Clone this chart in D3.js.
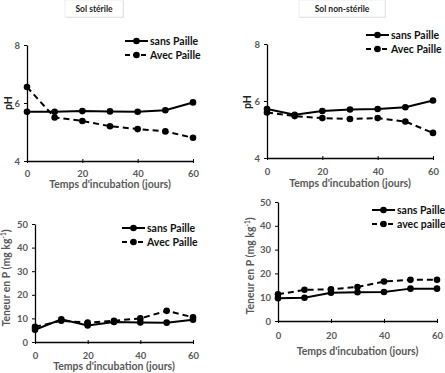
<!DOCTYPE html>
<html>
<head>
<meta charset="utf-8">
<script src="https://cdn.jsdelivr.net/npm/d3@7"></script>
<style>
	body { margin: 0; background: #fff; }
	svg { display: block; }
	text { font-family: Lato, "Open Sans", sans-serif; font-weight: bold; }
</style>
</head>
<body>
<script>
	// data
	var days = [0, 10, 20, 30, 40, 50, 60];

	var phSterileSans = [5.7, 5.7, 5.72, 5.71, 5.7, 5.75, 6.02];
	var phSterileAvec = [6.55, 5.5, 5.38, 5.2, 5.1, 5.02, 4.8];

	var phNonSterileSans = [5.72, 5.52, 5.65, 5.7, 5.72, 5.78, 6.02];
	var phNonSterileAvec = [5.6, 5.47, 5.4, 5.37, 5.4, 5.28, 4.88];

	var pSterileSans = [5.2, 9.6, 7.0, 8.5, 8.3, 8.2, 9.4];
	var pSterileAvec = [6.4, 9.0, 8.2, 9.0, 10.0, 13.2, 10.5];

	var pNonSterileSans = [9.6, 9.8, 11.9, 12.1, 12.2, 13.6, 13.6];
	var pNonSterileAvec = [11.2, 13.1, 13.3, 14.3, 16.6, 17.3, 17.3];

	var xTicks = [0, 20, 40, 60];
	var phTicks = [4, 6, 8];
	var pTicks = [0, 10, 20, 30, 40, 50];

	var xTitle = "Temps d'incubation (jours)";

	// layout
	var width = 445,
		height = 373;

	var svg = d3.select("body").append("svg")
		.attr("width", width)
		.attr("height", height);

	// label positions are text centres
	var panels = [
		{ left: 27, right: 193, top: 45, bottom: 161, domain: [4, 8], ticks: phTicks,
		  sans: phSterileSans, avec: phSterileAvec, names: ["sans Paille", "Avec Paille"],
		  legX: 125, legY: 41, ylabel: "pH", ylabX: 8, ylabY: 103, tickLabY: 173, titleY: 184.5 },
		{ left: 267, right: 433, top: 44, bottom: 158, domain: [4, 8], ticks: phTicks,
		  sans: phNonSterileSans, avec: phNonSterileAvec, names: ["sans Paille", "Avec Paille"],
		  legX: 366, legY: 35, ylabel: "pH", ylabX: 247.5, ylabY: 102, tickLabY: 171.5, titleY: 183.5 },
		{ left: 35, right: 193, top: 224, bottom: 342, domain: [0, 50], ticks: pTicks,
		  sans: pSterileSans, avec: pSterileAvec, names: ["sans Paille", "Avec Paille"],
		  legX: 122, legY: 228, ylabel: "P", ylabX: 6, ylabY: 278, tickLabY: 355, titleY: 366 },
		{ left: 278, right: 437, top: 202, bottom: 321, domain: [0, 50], ticks: pTicks,
		  sans: pNonSterileSans, avec: pNonSterileAvec, names: ["sans Paille", "avec paille"],
		  legX: 372, legY: 210, ylabel: "P", ylabX: 250, ylabY: 266, tickLabY: 335.5, titleY: 351 }
	];

	// title boxes
	function titleBox(x, w, label) {
		svg.append("rect")
			.attr("x", x + 1).attr("y", 1)
			.attr("width", w).attr("height", 17)
			.attr("fill", "#e6e6e6");
		svg.append("rect")
			.attr("x", x).attr("y", 0)
			.attr("width", w).attr("height", 17)
			.attr("fill", "#fff")
			.attr("stroke", "#e2e2e2")
			.attr("stroke-width", 0.6);
		svg.append("text")
			.attr("x", x + w / 2).attr("y", 12)
			.attr("text-anchor", "middle")
			.attr("font-size", 8.5)
			.attr("fill", "#222")
			.text(label);
	}
	titleBox(65, 58, "Sol stérile");
	titleBox(299, 86, "Sol non-stérile");

	panels.forEach(function(p) {
		var x = d3.scaleLinear().domain([0, 60]).range([p.left, p.right]);
		var y = d3.scaleLinear().domain(p.domain).range([p.bottom, p.top]);
		var g = svg.append("g");

		// y axis
		var yAxis = g.append("g")
			.attr("transform", "translate(" + p.left + ",0)")
			.call(d3.axisLeft(y).tickValues(p.ticks).tickSize(3).tickPadding(4)
				.tickSizeOuter(0).tickFormat(d3.format("d")));
		yAxis.select(".domain").attr("stroke", "#000").attr("stroke-width", 1.3);
		yAxis.selectAll(".tick line").attr("stroke", "#000");
		yAxis.selectAll("text")
			.attr("font-size", 9.5)
			.attr("font-family", null)
			.attr("fill", "#595959");

		// x axis, small ticks crossing the line
		var xAxis = g.append("g")
			.attr("transform", "translate(0," + p.bottom + ")")
			.call(d3.axisBottom(x).tickValues(xTicks).tickSize(2).tickSizeOuter(0).tickFormat(d3.format("d")));
		xAxis.select(".domain").attr("stroke", "#000").attr("stroke-width", 1.3);
		xAxis.selectAll(".tick line").attr("stroke", "#000").attr("y1", -2).attr("y2", 2);
		xAxis.selectAll("text")
			.attr("y", p.tickLabY - p.bottom + 3.5).attr("dy", null)
			.attr("font-size", 9.5)
			.attr("font-family", null)
			.attr("fill", "#595959");

		// x title
		g.append("text")
			.attr("x", (p.left + p.right) / 2)
			.attr("y", p.titleY + 3.5)
			.attr("text-anchor", "middle")
			.attr("font-size", 10.5)
			.attr("fill", "#595959")
			.text(xTitle);

		// y title
		var yl = g.append("text")
			.attr("transform", "translate(" + (p.ylabX + 3.5) + "," + p.ylabY + ") rotate(-90)")
			.attr("text-anchor", "middle")
			.attr("font-size", 10.5)
			.attr("fill", p.ylabel == "pH" ? "#222" : "#595959");
		if (p.ylabel == "pH") {
			yl.text("pH");
		} else {
			yl.append("tspan").text("Teneur  en P (mg kg");
			yl.append("tspan").attr("font-size", 6.5).attr("dy", -4).text("-1");
			yl.append("tspan").attr("dy", 4).text(")");
		}

		// series
		var line = d3.line()
			.x(function(d, i) { return x(days[i]); })
			.y(function(d) { return y(d); });

		[[p.sans, null], [p.avec, "6,4"]].forEach(function(s) {
			g.append("path")
				.datum(s[0])
				.attr("fill", "none")
				.attr("stroke", "#000")
				.attr("stroke-width", 2)
				.attr("stroke-dasharray", s[1])
				.attr("d", line);
			g.selectAll(null)
				.data(s[0]).enter()
				.append("circle")
				.attr("cx", function(d, i) { return x(days[i]); })
				.attr("cy", function(d) { return y(d); })
				.attr("r", 3.3)
				.attr("fill", "#000");
		});

		// legend
		p.names.forEach(function(name, i) {
			var ly = p.legY + i * 14;
			g.append("line")
				.attr("x1", p.legX).attr("x2", p.legX + 23)
				.attr("y1", ly).attr("y2", ly)
				.attr("stroke", "#000")
				.attr("stroke-width", 2)
				.attr("stroke-dasharray", i == 0 ? null : "5,3");
			g.append("circle")
				.attr("cx", p.legX + 11.5).attr("cy", ly)
				.attr("r", 3.3)
				.attr("fill", "#000");
			g.append("text")
				.attr("x", p.legX + 25)
				.attr("y", ly + 3.5)
				.attr("font-size", 10.5)
				.attr("fill", "#111")
				.text(name);
		});
	});
</script>
</body>
</html>
